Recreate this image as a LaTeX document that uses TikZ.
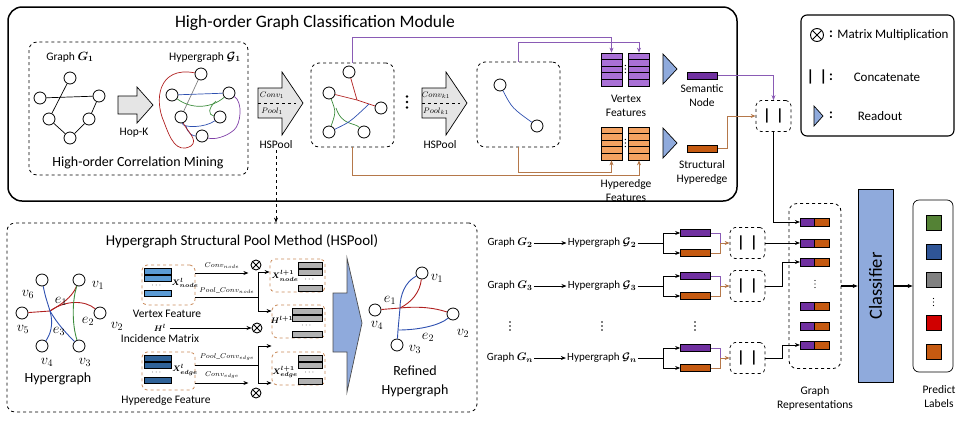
\documentclass[tikz,border=0pt]{standalone}
\usepackage{fontspec}
\setmainfont{Carlito}
\usepackage{amsmath}
\usepackage{bm}
\usetikzlibrary{arrows.meta,positioning}
\definecolor{dpurple}{HTML}{7030A0}
\definecolor{lpurple}{HTML}{A970D6}
\definecolor{dorange}{HTML}{C55A11}
\definecolor{lorange}{HTML}{F4A261}
\definecolor{flowpurple}{HTML}{8A5BB5}
\definecolor{flowbrown}{HTML}{B5784A}
\definecolor{readblue}{HTML}{8FAADC}
\definecolor{featblue}{HTML}{5B9BD5}
\definecolor{edgeblue}{HTML}{2F6298}
\definecolor{tanline}{HTML}{C98A5A}
\definecolor{hred}{HTML}{B02020}
\definecolor{hgreen}{HTML}{3C8C3C}
\definecolor{hblue}{HTML}{2E50B0}
\definecolor{hpurp}{HTML}{8040A8}
\definecolor{lgreen}{HTML}{548235}
\definecolor{lblue}{HTML}{2F5597}
\definecolor{lgray}{HTML}{808080}
\definecolor{lred}{HTML}{D00000}
\newcommand{\fsz}[2]{\fontsize{#1}{#2}\selectfont}
\newcommand{\threedots}[4]{\foreach \t in {-1,0,1} \fill (#1,#2+\t*#3) circle (#4);}
\begin{document}
\begin{tikzpicture}[x=1pt,y=-1pt,line width=0.7pt,>={Stealth[length=5pt,width=4pt]},
	vtx/.style={circle,draw,fill=white,inner sep=0pt,minimum size=12pt,line width=0.8pt},
	gbox/.style={draw,dashed,rounded corners=8pt,line width=0.8pt},
	fbox/.style={draw=tanline,dashed,rounded corners=5pt,line width=0.8pt},
	lbl/.style={font=\fsz{11.5}{14},align=center,inner sep=1pt},
	pline/.style={flowpurple,line width=1pt},
	bline/.style={flowbrown,line width=1pt},
	bar/.style={draw,minimum width=30pt,minimum height=7pt,inner sep=0pt},
	rbar/.style={draw,minimum width=14.5pt,minimum height=8pt,inner sep=0pt},
	cat/.style={draw,dashed,rounded corners=5pt,minimum width=35pt,minimum height=31pt,font=\fsz{16}{16}\bfseries},
	mult/.style={circle,draw,minimum size=10pt,inner sep=0pt,line width=0.9pt,path picture={\draw[line width=0.9pt] (path picture bounding box.north west) -- (path picture bounding box.south east) (path picture bounding box.north east) -- (path picture bounding box.south west);}},
	vname/.style={font=\fsz{14.5}{14.5},inner sep=0pt},
	xlbl/.style={font=\fsz{8}{8},inner sep=0pt},
	sq/.style={draw,minimum size=15pt,inner sep=0pt},
	]
	\useasboundingbox (0,0) rectangle (967,424);
	\draw[line width=1.5pt,rounded corners=14pt] (8,7) rectangle (737,201);
	\node[font=\fsz{17.5}{17.5}] (title) at (315,23) {High-order Graph Classification Module};
	\draw[gbox] (29,42) rectangle (248,175);
	\node[font=\fsz{14}{14}] (mining) at (138,163) {High-order Correlation Mining};
	\node[lbl] (gname) at (70,57) {Graph $\bm{G_1}$};
	\node[lbl] (hname) at (205,57) {Hypergraph $\bm{\mathcal{G}_1}$};
	\node[vtx] (a1) at (70,78) {};
	\node[vtx] (a2) at (40,98) {};
	\node[vtx] (a3) at (99,96) {};
	\node[vtx] (a4) at (49,119) {};
	\node[vtx] (a5) at (89,119) {};
	\node[vtx] (a6) at (70,138) {};
	\draw (a1) -- (a4) (a2) -- (a3) (a4) -- (a6) (a6) -- (a5) (a5) -- (a3);
	\draw[fill=gray!20] (118,96) -- (137,96) -- (137,87) -- (153,105) -- (137,123) -- (137,114) -- (118,114) -- cycle;
	\node[lbl] (hop) at (134,133) {Hop-K};
	\node[vtx] (b1) at (201,74) {};
	\node[vtx] (b2) at (172,95) {};
	\node[vtx] (b3) at (229,93) {};
	\node[vtx] (b4) at (181,117) {};
	\node[vtx] (b5) at (220,117) {};
	\node[vtx] (b6) at (202,136) {};
	\draw[gray] (b1) -- (b4);
	\draw[hblue] (b2) -- (b3);
	\draw[hgreen] (b2) .. controls (192,110) and (212,108) .. (b3);
	\draw[hgreen] (216,101) .. controls (208,108) and (208,115) .. (b5);
	\draw[hblue] (b4) .. controls (183,128) and (205,128) .. (b5);
	\draw[hblue] (186,126) .. controls (188,134) and (193,136) .. (b6);
	\draw[hred] (b1) .. controls (158,66) and (154,100) .. (164,122) .. controls (170,138) and (176,154) .. (191,146) .. controls (199,140) and (186,130) .. (b4);
	\draw[hpurp] (b3) .. controls (243,102) and (241,124) .. (234,130) .. controls (226,137) and (214,140) .. (b6);
	\foreach \x/\k/\n in {0/1/hs1,164/k1/hs2}{
		\draw[fill=gray!20] (258+\x,88) -- (282+\x,88) -- (282+\x,72) -- (303+\x,103) -- (282+\x,135) -- (282+\x,118) -- (258+\x,118) -- cycle;
		\draw[dashed] (258+\x,103) -- (296+\x,103);
		\node[font=\fsz{8}{8}] at (272+\x,95) {$Conv_{\k}$};
		\node[font=\fsz{8}{8}] at (272+\x,111) {$Pool_{\k}$};
		\node[lbl] (\n) at (276+\x,145) {HSPool};
	}
	\node[gbox,minimum width=83pt,minimum height=84pt] (box2) at (352.5,105) {};
	\node[vtx] (c1) at (349,72) {};
	\node[vtx] (c2) at (329,93) {};
	\node[vtx] (c3) at (381,108) {};
	\node[vtx] (c4) at (329,132) {};
	\node[vtx] (c5) at (364,132) {};
	\coordinate (j2) at (357,100);
	\draw[hred] (c2) -- (j2) -- (c3);
	\draw[hred] (c1) -- (j2);
	\draw[hgreen] (c2) .. controls (336,112) .. (c4);
	\draw[hgreen] (336,108) .. controls (342,126) and (354,122) .. (c5);
	\draw[hblue] (c4) .. controls (350,122) .. (369,104);
	\threedots{407}{102}{5.5}{1.3pt}
	\node[gbox,minimum width=83pt,minimum height=85pt] (box3) at (518.5,104.5) {};
	\node[vtx] (d1) at (500,85) {};
	\node[vtx] (d2) at (537,126) {};
	\draw[hblue] (d1) .. controls (512,108) .. (d2);
	\node[draw,fill=lpurple,minimum width=21pt,minimum height=33pt] (vf1) at (611.5,69.5) {};
	\node[draw,fill=lpurple,minimum width=21pt,minimum height=33pt] (vf2) at (639,69.5) {};
	\node[draw,fill=lorange,minimum width=21pt,minimum height=33pt] (he1) at (611.5,143.5) {};
	\node[draw,fill=lorange,minimum width=21pt,minimum height=33pt] (he2) at (639,143.5) {};
	\foreach \n in {vf1,vf2,he1,he2}
		\foreach \k in {1,...,4}
			\draw (\n.north west) ++(0,6.6*\k) -- ++(21,0);
	\threedots{625.3}{69}{3.5}{0.7pt}
	\threedots{625.3}{143}{3.5}{0.7pt}
	\node[lbl] (vft) at (626,106) {Vertex\\Features};
	\node[lbl] (hft) at (626,191) {Hyperedge\\Features};
	\draw[fill=readblue] (663,54) -- (677,69) -- (663,84) -- cycle;
	\draw[fill=readblue] (663,128) -- (677,143) -- (663,158) -- cycle;
	\node[bar,fill=dpurple] (sem) at (702.5,75.5) {};
	\node[bar,fill=dorange] (st) at (702.5,148.5) {};
	\node[lbl] (semt) at (702,96) {Semantic\\Node};
	\node[lbl] (stt) at (702,172) {Structural\\Hyperedge};
	\node[cat] (cat1) at (773.5,116) {|\,\,|};
	\draw[pline,->] (box2.north) -- ++(0,-25) -| (vf1.north);
	\draw[pline,->] (box3.north) -- ++(0,-19) -| (vf2.north);
	\draw[bline,->] (box2.south) -- ++(0,28) -| (he2.south);
	\draw[bline,->] (box3.south) -- ++(0,25) -| (he1.south);
	\draw[pline,->] (sem.east) -| (cat1.north);
	\draw[bline,->] (st.east) -- ++(10,0) |- (cat1.west);
	\node[draw,rounded corners=6pt,line width=1.1pt,minimum width=153pt,minimum height=121pt] (legend) at (877.5,75.5) {};
	\node[mult,minimum size=13pt] (lg1) at (817,35) {};
	\node[font=\fsz{14}{14}\bfseries] at (831,34) {:};
	\node[font=\fsz{13}{13}] at (893,35) {Matrix Multiplication};
	\node[font=\fsz{16}{16}\bfseries] (lg2) at (817,77) {|\,\,|};
	\node[font=\fsz{14}{14}\bfseries] at (831,77) {:};
	\node[font=\fsz{13}{13}] at (887,77) {Concatenate};
	\draw[fill=readblue] (814,106) -- (823,116) -- (814,126) -- cycle;
	\node[font=\fsz{14}{14}\bfseries] at (831,115) {:};
	\node[font=\fsz{13}{13}] at (880,116) {Readout};
	\node[gbox,minimum width=470pt,minimum height=189pt] (pool) at (242,317.5) {};
	\node[font=\fsz{15}{15}] (pooltitle) at (242,241) {Hypergraph Structural Pool Method (HSPool)};
	\draw[dashed,->] (hs1.south) -- (hs1.south |- pool.north);
	\node[vtx] (h1) at (79,280) {};
	\node[vtx] (h2) at (100,313) {};
	\node[vtx] (h3) at (79,346) {};
	\node[vtx] (h4) at (42,346) {};
	\node[vtx] (h5) at (22,313) {};
	\node[vtx] (h6) at (42,280) {};
	\coordinate (x1) at (50,311);
	\draw[hred,line width=0.9pt] (h5) -- (x1) .. controls (60,305) and (72,298) .. (h1);
	\draw[hred,line width=0.9pt] (x1) .. controls (65,300) and (85,300) .. (h2);
	\draw[hblue,line width=0.9pt] (h6) .. controls (45,295) .. (x1) .. controls (58,325) and (68,335) .. (h3);
	\draw[hblue,line width=0.9pt] (x1) .. controls (54,325) and (50,335) .. (h4);
	\draw[hgreen,line width=0.9pt] (h1) .. controls (72,300) and (72,325) .. (h3);
	\node[vname] at (98,285) {$v_1$};
	\node[vname] at (117,326) {$v_2$};
	\node[vname] at (85,362) {$v_3$};
	\node[vname] at (47,362) {$v_4$};
	\node[vname] at (23,329) {$v_5$};
	\node[vname] at (28,294) {$v_6$};
	\node[vname] at (61,301) {$e_1$};
	\node[vname] at (88,321) {$e_2$};
	\node[vname] at (59,331) {$e_3$};
	\node[font=\fsz{14}{14}] (hgt) at (58,379) {Hypergraph};
	\node[fbox,minimum width=53pt,minimum height=40pt] (vfbox) at (168.5,285) {};
	\foreach \y in {268,275,290}
		\draw[fill=featblue] (144,\y) rectangle (171,\y+6.5);
	\node[xlbl] at (157,285.5) {$\cdots$};
	\node[xlbl] at (185,283) {$\bm{X^{l}_{node}}$};
	\node[lbl] (vft2) at (167,314) {Vertex Feature};
	\node[fbox,minimum width=53pt,minimum height=38pt] (hfbox) at (168.5,371) {};
	\foreach \y in {355,362,377}
		\draw[fill=edgeblue] (144,\y) rectangle (171,\y+6.5);
	\node[xlbl] at (157,372.5) {$\cdots$};
	\node[xlbl] at (185,370) {$\bm{X^{l}_{edge}}$};
	\node[lbl] (hft2) at (166,400) {Hyperedge Feature};
	\node[font=\fsz{8}{8}] (hl) at (160,328) {$\bm{H^{l}}$};
	\node[lbl] (inc) at (160,339) {Incidence Matrix};
	\node[mult] (m1) at (256,265) {};
	\node[mult] (m2) at (257,328) {};
	\node[mult] (m3) at (256,393) {};
	\draw[->] (hl) -- (m2);
	\node[fbox,minimum width=55pt,minimum height=33pt] (onb) at (297.5,275.5) {};
	\node[fbox,minimum width=53pt,minimum height=33pt] (hnb) at (298.5,321.5) {};
	\node[fbox,minimum width=53pt,minimum height=33pt] (oeb) at (298.5,368.5) {};
	\foreach \y in {262,269,285}
		\draw[fill=gray!60] (298,\y) rectangle (322,\y+6.5);
	\foreach \y in {308,315,331}
		\draw[fill=gray!60] (292,\y) rectangle (322,\y+6.5);
	\foreach \y in {355,362,378}
		\draw[fill=gray!60] (298,\y) rectangle (322,\y+6.5);
	\node[xlbl] at (310,280) {$\cdots$};
	\node[xlbl] at (307,326) {$\cdots$};
	\node[xlbl] at (310,373) {$\cdots$};
	\node[xlbl] at (285,276) {$\bm{X^{l+1}_{node}}$};
	\node[xlbl] at (282,320) {$\bm{H^{l+1}}$};
	\node[xlbl] at (285,372) {$\bm{X^{l+1}_{edge}}$};
	\coordinate (ju) at (258,272);
	\coordinate (jd) at (258,311);
	\coordinate (ku) at (258,346);
	\coordinate (kd) at (258,383);
	\draw[->] ([yshift=12pt]vfbox.east) -- ++(53,0) node[midway,above=1pt,font=\fsz{7.5}{7.5}] {$Conv_{node}$};
	\draw ([yshift=-12pt]vfbox.east) -- ++(63,0) node[pos=0.5,above=0pt,font=\fsz{7.5}{7.5}] {$Pool\_Conv_{node}$};
	\draw (ju) -- (jd);
	\draw[->] (ju) -- (ju -| onb.west);
	\draw[->] (jd) -- (jd -| hnb.west);
	\draw ([yshift=6pt]hfbox.east) -- ++(63,0) node[pos=0.5,above=1pt,font=\fsz{7.5}{7.5}] {$Pool\_Conv_{edge}$};
	\draw[->] ([yshift=-12pt]hfbox.east) -- ++(53,0) node[midway,above=1pt,font=\fsz{7.5}{7.5}] {$Conv_{edge}$};
	\draw (ku) -- (kd);
	\draw[->] (ku) -- (ku -| hnb.west);
	\draw[->] (kd) -- (kd -| oeb.west);
	\draw[fill=readblue,draw=gray!60!black] (333,293) -- (347,293) -- (347,258) -- (362,323) -- (347,392) -- (347,352) -- (333,352) -- cycle;
	\node[vtx] (r1) at (422,273) {};
	\node[vtx] (r2) at (453,314) {};
	\node[vtx] (r3) at (397,345) {};
	\node[vtx] (r4) at (375,310) {};
	\coordinate (x2) at (400,308);
	\draw[hred,line width=0.9pt] (r4) -- (x2) .. controls (420,306) and (435,308) .. (r2);
	\draw[hred,line width=0.9pt] (x2) .. controls (412,302) and (420,292) .. (r1);
	\draw[hblue,line width=0.9pt] (r1) .. controls (405,282) and (400,295) .. (x2) -- (398,330) -- (r3);
	\draw[hblue,line width=0.9pt] (398,330) .. controls (420,330) and (440,325) .. (r2);
	\node[vname] at (437,278) {$v_1$};
	\node[vname] at (463,333) {$v_2$};
	\node[vname] at (415,349) {$v_3$};
	\node[vname] at (377,325) {$v_4$};
	\node[vname] at (390,300) {$e_1$};
	\node[vname] at (428,337) {$e_2$};
	\node[font=\fsz{14}{19},align=center] (rft) at (415,381) {Refined\\Hypergraph};
	\foreach \i/\y in {2/243,3/286,n/358}{
		\node[lbl,font=\fsz{11}{11}] (g\i) at (510,\y) {Graph $\bm{G_{\i}}$};
		\node[lbl,font=\fsz{11}{11}] (hg\i) at (602,\y) {Hypergraph $\bm{\mathcal{G}_{\i}}$};
		\draw[->] (g\i) -- (hg\i);
		\coordinate (s\i) at (663,\y);
		\draw (hg\i) -- (s\i);
		\node[bar,fill=dpurple] (p\i) at (695.5,\y-10) {};
		\node[bar,fill=dorange] (o\i) at (695.5,\y+10) {};
		\draw[->] (s\i) |- (p\i.west);
		\draw[->] (s\i) |- (o\i.west);
		\node[cat] (cc\i) at (747.5,\y) {|\,\,|};
		\coordinate (mm\i) at (720,\y);
		\draw[pline] (p\i.east) -| (mm\i);
		\draw[bline] (o\i.east) -| (mm\i);
		\draw[bline,->] (mm\i) -- (cc\i.west);
	}
	\threedots{510}{326}{4}{0.8pt}
	\threedots{602}{326}{4}{0.8pt}
	\threedots{695}{326}{4}{0.8pt}
	\node[gbox,minimum width=52pt,minimum height=165pt] (rep) at (815,286) {};
	\foreach \y in {222,243,262,306,326,345}{
		\node[rbar,fill=dpurple] (rp\y) at (807.5,\y) {};
		\node[rbar,fill=dorange] (ro\y) at (822,\y) {};
	}
	\threedots{815}{284}{3.5}{0.7pt}
	\draw[->] (cat1.south) |- (rp222.west);
	\draw[->] (cc2.east) -- (rp243.west);
	\draw[->] (cc3.east) -- ++(17,0) |- (rp262.west);
	\draw[->] (ccn.east) -- ++(17,0) |- (rp345.west);
	\node[lbl] (rept) at (815,398) {Graph\\Representations};
	\node[draw,fill=readblue,minimum width=35pt,minimum height=193pt] (cls) at (875.5,286) {};
	\node[rotate=90,font=\fsz{18.5}{18.5}] at (cls) {Classifier};
	\draw[->,line width=1.4pt] (rep.east) -- (cls.west);
	\node[draw,rounded corners=6pt,minimum width=40pt,minimum height=172pt] (lab) at (933,286) {};
	\draw[->,line width=1.4pt] (cls.east) -- (lab.west);
	\node[sq,fill=lgreen] (q1) at (933.5,223) {};
	\node[sq,fill=lblue] (q2) at (933.5,252) {};
	\node[sq,fill=lgray] (q3) at (933.5,280) {};
	\threedots{933.5}{302}{3.5}{0.7pt}
	\node[sq,fill=lred] (q4) at (933.5,323) {};
	\node[sq,fill=dorange] (q5) at (933.5,352) {};
	\node[lbl] (labt) at (939,397) {Predict\\Labels};
\end{tikzpicture}
\end{document}
